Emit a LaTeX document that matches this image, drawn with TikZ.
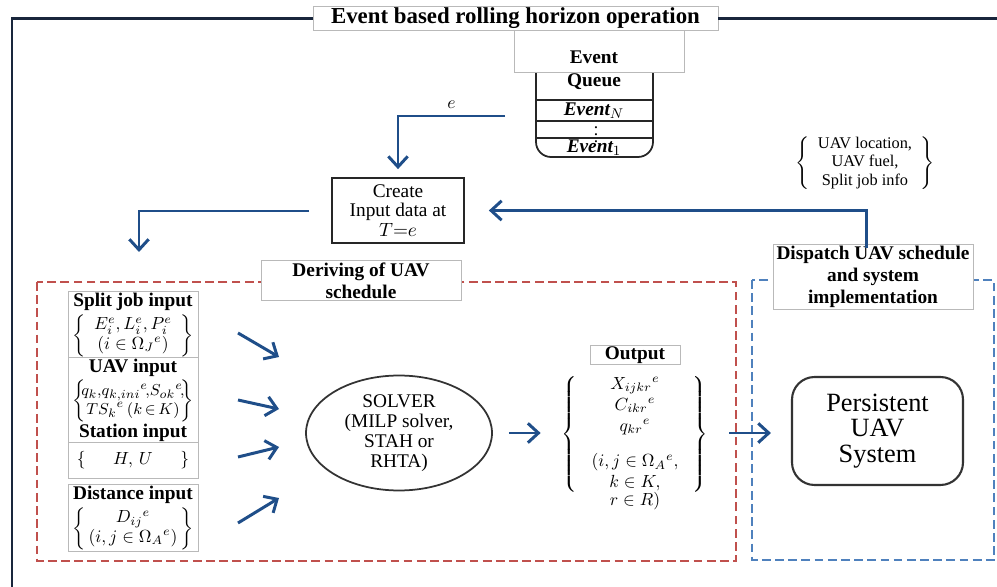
\documentclass[tikz,border=0pt]{standalone}
\usepackage{fontspec}
\setmainfont{Liberation Serif}
\usetikzlibrary{arrows.meta,shapes.geometric}
\definecolor{uavblue}{RGB}{31,78,137}
\definecolor{framenavy}{RGB}{25,38,60}
\definecolor{dashred}{RGB}{192,80,77}
\definecolor{dashblue}{RGB}{79,129,189}
\newcommand\inhead[1]{{\bfseries\fontsize{11}{12}\selectfont #1}}
\begin{document}
\begin{tikzpicture}[x=0.02cm,y=-0.02cm,
    flow/.style={->,>={Straight Barb[length=6pt,width=11pt]},line width=1.7pt,draw=uavblue},
    tagbox/.style={draw=gray!55,fill=white,align=center,font=\bfseries\fontsize{11}{12.5}\selectfont,inner sep=1pt},
    inbox/.style={draw=gray!55,fill=white,align=center,minimum width=2.6cm,inner sep=1pt,font=\fontsize{10}{11}\selectfont},
    dashframe/.style={dash pattern=on 5pt off 2.5pt,line width=1.2pt}]
    \useasboundingbox (0,0) rectangle (997,587);

    % event queue
    \draw [gray!30!black,line width=1pt,rounded corners=0.3cm] (536,60) -- (536,157) -- (653,157) -- (653,60);
    \foreach \y in {100,121,138}
        \draw [gray!30!black,line width=1pt] (536,\y) -- (653,\y);
    \node[draw=gray!55,fill=white,minimum width=3.4cm,minimum height=0.84cm] (qtop) at (599,51) {};
    \node[align=center,font=\bfseries\fontsize{11}{13}\selectfont] (queue) at (594,70) {Event\\Queue};
    \node[font=\bfseries\itshape\fontsize{11}{12}\selectfont] (evN) at (594,111) {Event$_{N}$};
    \node[inner sep=0pt] (evdots) at (596,129.5) {$\vdots$};
    \node[font=\bfseries\itshape\fontsize{11}{12}\selectfont] (evone) at (594,148) {Event$_{1}$};

    % outer frame
    \node[tagbox,font=\bfseries\fontsize{13}{14}\selectfont,minimum width=8.1cm,minimum height=0.46cm] (title) at (515.5,18.5) {Event based rolling horizon operation};
    \draw [framenavy,line width=1.3pt] (title.west) -- (12,18.5) -- (12,600);
    \draw [framenavy,line width=1.3pt] (title.east) -- (1010,18.5);

    % create input data
    \node[draw=gray!30!black,line width=1pt,minimum width=2.64cm,minimum height=1.3cm,align=center,inner sep=1pt,font=\fontsize{11}{11.3}\selectfont] (create) at (398,210.5) {Create\\Input data at\\$T{=}e$};
    \coordinate (qout) at (505,116);
    \draw [flow,shorten >=0.16cm] (qout) -| (create.north) node[pos=0.25,above,text=black]{$e$};
    \coordinate (cleft) at (309,211);
    \coordinate (derivein) at (139,252);
    \draw [flow] (cleft) -| (derivein);

    % dashed frames
    \draw [dashframe,dashred] (37,282) rectangle (736,561);
    \draw [dashframe,dashblue] (752,280) rectangle (994,560);
    \node[tagbox,minimum width=4cm,minimum height=0.74cm] (derive) at (361,280.5) {Deriving of UAV\\schedule};
    \node[tagbox,minimum width=4cm,minimum height=1.16cm] (dispatch) at (873,277) {Dispatch UAV schedule\\and system\\implementation};

    \coordinate (fb) at (866,248);
    \draw [flow,shorten >=0.48cm] (fb) |- (create.east);
    \node[font=\fontsize{9.3}{10.5}\selectfont] (info) at (865,163) {$\left\{\begin{tabular}{@{\hspace{5pt}}c@{\hspace{5pt}}}UAV location,\\UAV fuel,\\Split job info\end{tabular}\right\}$};

    % inputs
    \node[inbox,minimum height=1.32cm] (split) at (133,325) {\inhead{Split job input}\\[1pt]
        $\left\{\begin{array}{@{}c@{}}\makebox[54pt]{$E_i^e, L_i^e, P_i^e$}\\ (i\in\Omega_J{}^e)\end{array}\right\}$};
    \node[inbox,minimum height=1.58cm] (uav) at (133,400.5) {\inhead{UAV input}\\[1pt]
        {\fontsize{9.5}{10.5}\selectfont$\left\{\begin{array}{@{}c@{}}\makebox[54pt]{$q_k,\!q_{k,ini}{}^e\!,\!S_{ok}{}^e\!,$}\\ TS_k{}^e\,(k\,{\in}\,K)\end{array}\right\}$}\\
        \inhead{Station input}};
    \node[inbox,minimum height=0.72cm] (station) at (133,460) {$\left\{\makebox[54pt]{$H,\,U$}\right\}$};
    \node[inbox,minimum height=1.24cm] (dist) at (133,518) {\inhead{Distance input}\\[1pt]
        $\left\{\begin{array}{@{}c@{}}\makebox[54pt]{$D_{ij}{}^e$}\\ (i,j\in\Omega_A{}^e)\end{array}\right\}$};
    \foreach \i/\ya/\yb in {1/333/357,2/400/409,3/457/447,4/523/498} {
        \coordinate (in\i) at (238,\ya);
        \coordinate (sv\i) at (279,\yb);
        \draw [flow] (in\i) -- (sv\i);
    }

    % solver and output
    \node[ellipse,draw=gray!40!black,line width=1pt,minimum width=3.72cm,minimum height=2.3cm,align=center,inner sep=0pt,font=\fontsize{11}{11.5}\selectfont] (solver) at (399,433) {SOLVER\\(MILP solver,\\STAH or\\RHTA)};
    \node[tagbox,minimum width=1.8cm,minimum height=0.36cm,inner sep=0.5pt] (outlabel) at (635,355) {Output};
    \node[align=center,font=\fontsize{10}{12}\selectfont] (outset) at (635,442) {$\left\{\begin{array}{@{\hspace{8pt}}c@{\hspace{8pt}}}X_{ijkr}{}^e\\ C_{ikr}{}^e\\ q_{kr}{}^e\\[8pt] (i,j\in\Omega_A{}^e,\\ k\in K,\end{array}\right\}$\\[-2pt] $r\in R)$};
    \node[draw=gray!40!black,line width=1.2pt,rounded corners=0.45cm,minimum width=3.42cm,minimum height=2.16cm,align=center,font=\fontsize{15}{14.5}\selectfont] (persist) at (877.5,431) {Persistent\\UAV\\System};

    \draw [flow,shorten <=0.32cm,shorten >=0.3cm] (solver.east) -- (solver.east -| outset.west);
    \draw [flow,shorten <=0.3cm,shorten >=0.4cm] (solver.east -| outset.east) -- (solver.east -| persist.west);
\end{tikzpicture}
\end{document}
